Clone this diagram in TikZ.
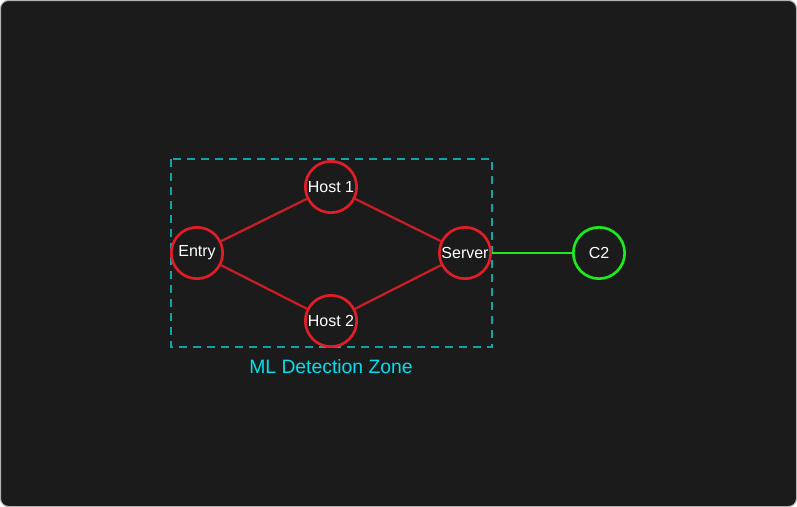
\documentclass[tikz,border=0pt]{standalone}
\usepackage{fontspec}
\setmainfont{Liberation Sans}
\begin{document}
\begin{tikzpicture}[
    x=0.75pt, y=-0.75pt,
    host/.style={circle, draw=hostred, line width=2pt, minimum size=38.5pt, inner sep=0pt, text=white, font=\fontsize{12}{14}\selectfont},
    link/.style={draw=linkred, line width=1.7pt},
    zone/.style={draw=zoneteal, line width=1.8pt, dash pattern=on 6pt off 4.5pt}
]
\definecolor{bg}{HTML}{1B1B1B}
\definecolor{hostred}{HTML}{E01E28}
\definecolor{linkred}{HTML}{C81E26}
\definecolor{zoneteal}{HTML}{12A3A8}
\definecolor{zonecyan}{HTML}{00E0EE}
\definecolor{c2green}{HTML}{1EE81E}

% Background
\draw[fill=bg, draw=gray!60, line width=0.75pt, rounded corners=6pt] (0.5,0.5) rectangle (796.5,506.5);

% Detection zone
\draw[zone] (171,159) rectangle (492,347);
\node[text=zonecyan, font=\fontsize{14.5}{17}\selectfont] (zonelabel) at (331,367) {ML Detection Zone};

% Hosts
\node[host] (entry) at (197,253) {Entry};
\node[host] (host1) at (331,187) {Host 1};
\node[host] (host2) at (331,321) {Host 2};
\node[host] (server) at (465,253) {Server};
\node[host, draw=c2green] (c2) at (599,253) {C2};

% Links
\draw[link] (entry) -- (host1);
\draw[link] (entry) -- (host2);
\draw[link] (host1) -- (server);
\draw[link] (host2) -- (server);
\draw[link, draw=c2green, line width=2pt] (server) -- (c2);

\end{tikzpicture}
\end{document}
